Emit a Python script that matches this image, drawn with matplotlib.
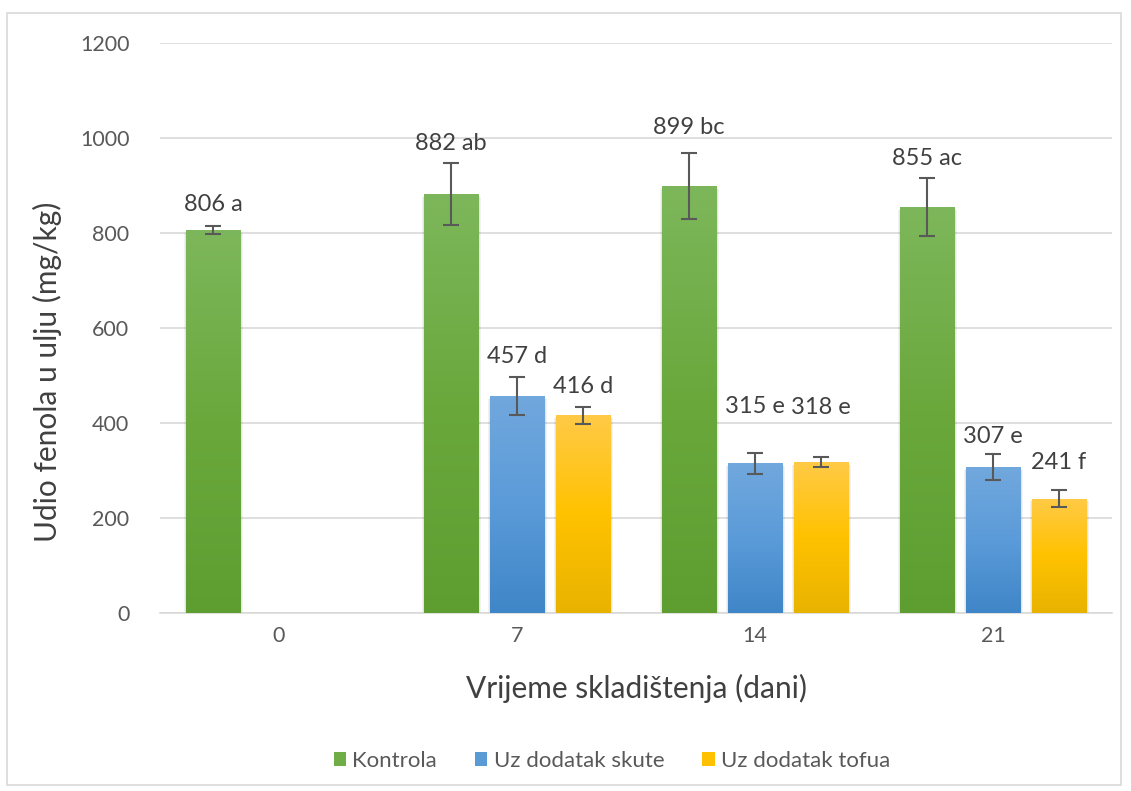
import numpy as np
import matplotlib
matplotlib.use("Agg")
import matplotlib.pyplot as plt
from matplotlib.patches import Rectangle, Patch
from matplotlib.colors import LinearSegmentedColormap

plt.rcParams['font.family'] = ['Lato', 'DejaVu Sans']

days = ["0", "7", "14", "21"]
series = ["Kontrola", "Uz dodatak skute", "Uz dodatak tofua"]
kontrola = [806, 882, 899, 855]
skuta = [None, 457, 315, 307]
tofu = [None, 416, 318, 241]
kontrola_err = [8, 66, 70, 61]
skuta_err = [None, 40, 22, 27]
tofu_err = [None, 18, 11, 17]
labels_k = ["806 a", "882 ab", "899 bc", "855 ac"]
labels_s = [None, "457 d", "315 e", "307 e"]
labels_t = [None, "416 d", "318 e", "241 f"]
# label vertical positions (layout)
laby_k = [861, 989, 1023, 956]
laby_s = [None, 539, 434, 371]
laby_t = [None, 476, 432, 316]

grad = {
    0: ["#5e9e31", "#6aa83c", "#7db75b"],
    1: ["#3f86c8", "#5b9bd9", "#71a8dd"],
    2: ["#e8b300", "#ffc200", "#ffca47"],
}
solid = ["#70ad47", "#5b9bd5", "#ffc000"]

fig = plt.figure(figsize=(11.31, 7.91), dpi=100)
fig.patches.append(Rectangle((7/1131, 1-785/791), 1114/1131, 772/791, transform=fig.transFigure,
                             fill=False, edgecolor="#d9d9d9", linewidth=1.2))
ax = fig.add_axes([160/1131, 1-613/791, 952/1131, 570/791])

x = np.arange(len(days))
width = 0.227
step = 0.277
gray_text = "#404040"

all_vals = [kontrola, skuta, tofu]
all_err = [kontrola_err, skuta_err, tofu_err]
all_lab = [labels_k, labels_s, labels_t]
all_laby = [laby_k, laby_s, laby_t]

for si in range(3):
    cmap = LinearSegmentedColormap.from_list("g%d" % si, grad[si])
    for gi in range(len(days)):
        v = all_vals[si][gi]
        if v is None:
            continue
        xc = x[gi] + (si - 1) * step
        # soft shadow
        for k, a in enumerate([0.05, 0.05, 0.05]):
            d = 0.003 * (k + 1)
            sh = Rectangle((xc - width/2 - d + 0.002, 0), width + 2*d, v - 2*(k+1), facecolor="#000000",
                           alpha=a, edgecolor="none", zorder=2)
            ax.add_patch(sh)
        bar = ax.bar(xc, v, width=width, color=solid[si], zorder=3, linewidth=0)[0]
        grad_img = np.linspace(0, 1, 256).reshape(-1, 1)
        im = ax.imshow(grad_img, cmap=cmap, origin="lower", aspect="auto",
                       extent=[xc - width/2, xc + width/2, 0, v], zorder=3.5)
        im.set_clip_path(bar)
        e = all_err[si][gi]
        ax.errorbar(xc, v, yerr=e, fmt="none", ecolor="#595959", elinewidth=1.5,
                    capsize=6, capthick=1.5, zorder=5)
        ax.text(xc, all_laby[si][gi], all_lab[si][gi], ha="center", va="center",
                fontsize=17, color=gray_text, zorder=6)

ax.set_xlim(-0.5, len(days) - 0.5)
ax.set_ylim(0, 1200)
ax.set_yticks(np.arange(0, 1201, 200))
ax.set_xticks(x)
ax.set_xticklabels(days)
ax.tick_params(axis="both", length=0, labelsize=15.5, labelcolor="#595959", pad=9)
ax.tick_params(axis="y", pad=22)
ax.grid(axis="y", color="#d9d9d9", linewidth=1.2, zorder=0)
ax.set_axisbelow(True)
for s in ["top", "right", "left"]:
    ax.spines[s].set_visible(False)
ax.spines["bottom"].set_color("#d9d9d9")
ax.spines["bottom"].set_linewidth(1.2)

fig.text(47/1131, 1-372/791, "Udio fenola u ulju (mg/kg)", rotation=90, ha="center", va="center",
         fontsize=21.5, color=gray_text)
fig.text(636/1131, 1-688/791, "Vrijeme skladištenja (dani)", ha="center", va="center",
         fontsize=21.5, color=gray_text)

handles = [Patch(facecolor=solid[i], edgecolor="none") for i in range(3)]
fig.legend(handles, series, loc="center", bbox_to_anchor=(612/1131, 1-761/791), ncol=3,
           frameon=False, fontsize=16, labelcolor="#595959", handlelength=0.55, handleheight=0.55,
           handletextpad=0.3, columnspacing=1.7)

fig.savefig("out.png", dpi=100)
